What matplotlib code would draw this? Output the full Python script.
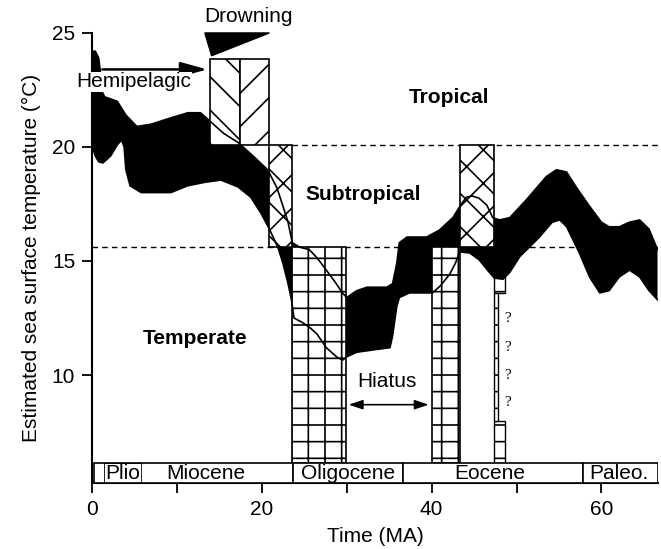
import matplotlib
matplotlib.use("Agg")
import matplotlib.pyplot as plt
from matplotlib.patches import Rectangle, Polygon

plt.rcParams["font.family"] = ["Liberation Sans", "DejaVu Sans"]
plt.rcParams["hatch.linewidth"] = 1.2

# Upper / lower edge of the estimated SST band (age in MA, temperature in °C)
UPPER_MA = [0.0, 0.4, 0.8, 1.0, 1.1, 1.5, 3.0, 4.0, 5.3, 7.0, 9.5, 11.3, 12.8, 14.0,
            15.5, 17.2, 19.0, 20.7, 21.8, 22.5, 23.1, 23.6, 24.5, 25.6, 26.6, 27.6,
            28.6, 29.5, 30.0, 31.2, 32.4, 34.7, 35.4, 35.9, 36.2, 37.1, 39.4, 40.9,
            42.5, 43.5, 44.1, 44.8, 45.6, 46.5, 47.2, 48.0, 49.2, 51.2, 53.5, 54.7,
            55.9, 57.1, 58.6, 60.0, 60.9, 62.1, 63.3, 64.5, 65.6, 66.6]
UPPER_T = [24.2, 24.2, 23.9, 23.3, 22.5, 22.2, 22.0, 21.4, 20.9, 21.0, 21.3, 21.5, 21.5, 21.1,
           20.6, 20.2, 19.6, 19.0, 18.2, 17.4, 16.7, 15.8, 15.6, 15.5, 15.1, 14.6,
           14.1, 13.6, 13.4, 13.7, 13.85, 13.85, 14.0, 14.9, 15.8, 16.05, 16.05, 16.35,
           16.9, 17.5, 17.8, 17.85, 17.75, 17.45, 16.9, 16.8, 16.9, 17.7, 18.7, 19.0,
           18.9, 18.2, 17.4, 16.7, 16.5, 16.5, 16.7, 16.8, 16.4, 15.5]
LOWER_MA = [0.0, 0.4, 0.8, 1.3, 2.2, 3.0, 3.5, 3.8, 4.0, 4.5, 5.8, 9.3, 11.3, 13.3,
            15.2, 17.2, 18.7, 19.9, 20.9, 21.9, 22.5, 23.1, 23.5, 23.8, 24.8, 25.6,
            26.5, 27.6, 28.8, 29.5, 30.0, 31.2, 33.1, 35.1, 35.4, 35.9, 36.2, 37.4,
            39.4, 40.1, 41.0, 42.1, 42.8, 43.3, 44.5, 45.6, 46.8, 47.4, 48.4, 49.2,
            50.4, 51.5, 52.7, 54.2, 55.1, 55.9, 57.4, 58.6, 59.8, 60.9, 62.1, 63.3,
            64.5, 65.6, 66.6]
LOWER_T = [20.1, 19.6, 19.35, 19.3, 19.6, 20.1, 20.3, 20.0, 19.0, 18.3, 18.0, 18.0, 18.3, 18.45,
           18.55, 18.25, 17.8, 17.1, 16.4, 15.6, 14.9, 14.0, 13.3, 12.5, 12.3, 12.1,
           11.8, 11.2, 10.8, 10.65, 10.8, 11.0, 11.1, 11.2, 11.7, 13.0, 13.4, 13.6,
           13.6, 13.6, 13.9, 14.4, 14.9, 15.4, 15.35, 15.05, 14.5, 14.25, 14.2, 14.5,
           15.2, 15.6, 16.05, 16.7, 16.8, 16.5, 15.35, 14.3, 13.6, 13.7, 14.3, 14.6,
           14.3, 13.7, 13.3]

# Climate zone boundaries (°C) and zone names
ZONE_LIMITS = [15.6, 20.1]
ZONES = ["Temperate", "Subtropical", "Tropical"]

# Facies boxes: (age from, age to, T from, T to)  -- None = down to epoch bar
BOXES = [
    (13.9, 17.4, 20.1, 23.85),
    (17.4, 20.9, 20.1, 23.85),
    (20.9, 23.6, 15.6, 20.1),
    (23.6, 29.9, None, 15.6),
    (40.0, 43.3, None, 15.6),
    (43.4, 47.4, 15.6, 20.1),
]
BOX_HATCH = ["\\", "/", "x", "+", "+", "x"]

# Uncertain narrow interval (with ? marks)
THIN_BOX = (47.4, 48.7)
THIN_TOP = (13.6, 15.6)
THIN_BOTTOM_TOP = 8.0
QUESTION_T = [12.5, 11.2, 10.0, 8.8]

# Drowning / hemipelagic / hiatus
DROWNING_AGE = 13.9
HEMI_T = 23.4
HIATUS = (29.9, 40.0)
HIATUS_T = 8.7

# Epochs
EPOCH_EDGES = [0.3, 23.7, 36.6, 57.8, 66.6]
EPOCH_NAMES = ["Miocene", "Oligocene", "Eocene", "Paleo."]
EPOCH_LABEL_X = [13.4, 30.2, 46.8, 62.0]
PLIO = (1.4, 5.8)

XMAX = 66.7
YMIN, YMAX = 5.26, 25.0
BAR_TOP = 6.14

fig = plt.figure(figsize=(6.61, 5.49), dpi=100)
ax = fig.add_axes([0.139, 0.120, 0.857, 0.820])
ax.set_xlim(0, XMAX)
ax.set_ylim(YMIN, YMAX)

# zone boundaries
ax.hlines(ZONE_LIMITS[0], 0, XMAX, colors="k", linestyles=(0, (4, 3)), lw=1.0, zorder=1)
ax.hlines(ZONE_LIMITS[1], BOXES[2][1], XMAX, colors="k", linestyles=(0, (4, 3)), lw=1.0, zorder=1)

# thin uncertain box (upper part lies under the band)
ax.add_patch(Rectangle((THIN_BOX[0], THIN_TOP[0]), THIN_BOX[1] - THIN_BOX[0],
                       THIN_TOP[1] - THIN_TOP[0], facecolor="white", edgecolor="k",
                       hatch="+", lw=1.0, zorder=1.5))

# SST band
band_x = UPPER_MA + LOWER_MA[::-1]
band_y = UPPER_T + LOWER_T[::-1]
ax.fill(band_x, band_y, color="black", lw=0, zorder=2)

# facies boxes
for (x0, x1, y0, y1), h in zip(BOXES, BOX_HATCH):
    y0 = BAR_TOP if y0 is None else y0
    ax.add_patch(Rectangle((x0, y0), x1 - x0, y1 - y0, facecolor="white",
                           edgecolor="k", hatch=h, lw=1.2, zorder=3))

ax.add_patch(Rectangle((THIN_BOX[0], BAR_TOP), THIN_BOX[1] - THIN_BOX[0],
                       THIN_BOTTOM_TOP - BAR_TOP, facecolor="white", edgecolor="k",
                       hatch="+", lw=1.0, zorder=3))
ax.add_patch(Rectangle((THIN_BOX[0], THIN_BOTTOM_TOP), 0.45, THIN_TOP[0] - THIN_BOTTOM_TOP,
                       facecolor="white", edgecolor="k", hatch="-", lw=1.0, zorder=3))
for t in QUESTION_T:
    ax.text(THIN_BOX[1] + 0.3, t, "?", family="Liberation Serif", fontsize=11,
            ha="center", va="center", zorder=5)

# band edges drawn through the boxes
ax.plot(UPPER_MA, UPPER_T, color="k", lw=1.2, zorder=4)
ax.plot(LOWER_MA, LOWER_T, color="k", lw=1.2, zorder=4)

# drowning wedge
ax.add_patch(Polygon([(DROWNING_AGE - 0.6, YMAX), (BOXES[1][1], YMAX),
                      (DROWNING_AGE + 0.2, 24.0)], closed=True, color="k",
                     clip_on=False, zorder=5))
ax.text(18.5, 25.7, "Drowning", fontsize=15, ha="center", va="center")

# hemipelagic arrow
ax.annotate("", xy=(DROWNING_AGE, HEMI_T), xytext=(0.9, HEMI_T),
            arrowprops=dict(arrowstyle="-|>,head_length=0.9,head_width=0.25",
                            color="k", lw=1.8, mutation_scale=18), zorder=6)
ax.text(4.9, 22.85, "Hemipelagic", fontsize=15, ha="center", va="center", zorder=7,
        bbox=dict(facecolor="white", edgecolor="none", pad=0.5), clip_on=False)

# hiatus
ax.annotate("", xy=(HIATUS[0], HIATUS_T), xytext=(HIATUS[1], HIATUS_T),
            arrowprops=dict(arrowstyle="<|-|>,head_length=0.6,head_width=0.2",
                            color="k", lw=1.2, mutation_scale=14), zorder=6)
ax.text(34.8, 9.7, "Hiatus", fontsize=15, ha="center", va="center", zorder=6)

# zone names
ax.text(12.1, 11.6, ZONES[0], fontsize=15, fontweight="bold", ha="center", va="center")
ax.text(32.0, 17.9, ZONES[1], fontsize=15, fontweight="bold", ha="center", va="center")
ax.text(42.1, 22.15, ZONES[2], fontsize=15, fontweight="bold", ha="center", va="center")

# epoch bar
for x0, x1, name, lx in zip(EPOCH_EDGES[:-1], EPOCH_EDGES[1:], EPOCH_NAMES, EPOCH_LABEL_X):
    ax.add_patch(Rectangle((x0, YMIN), x1 - x0, BAR_TOP - YMIN, facecolor="white",
                           edgecolor="k", lw=1.2, zorder=3))
    ax.text(lx, (YMIN + BAR_TOP) / 2, name, fontsize=15, ha="center", va="center", zorder=5)
ax.add_patch(Rectangle((PLIO[0], YMIN), PLIO[1] - PLIO[0], BAR_TOP - YMIN, facecolor="none",
                       edgecolor="k", lw=0.6, zorder=4))
ax.text(sum(PLIO) / 2, (YMIN + BAR_TOP) / 2, "Plio", fontsize=15, ha="center",
        va="center", zorder=5)

# axes
for s in ["top", "right"]:
    ax.spines[s].set_visible(False)
for s in ["left", "bottom"]:
    ax.spines[s].set_linewidth(1.5)
ax.set_xticks([0, 20, 40, 60])
ax.set_xticks([10, 30, 50], minor=True)
ax.set_yticks([10, 15, 20, 25])
ax.tick_params(axis="both", which="both", direction="out", length=7, width=1.3,
               labelsize=15, pad=5)
ax.set_xlabel("Time (MA)", fontsize=15, labelpad=6)
ax.set_ylabel("Estimated sea surface temperature (°C)", fontsize=15, labelpad=8)

fig.savefig("out.png", dpi=100)
